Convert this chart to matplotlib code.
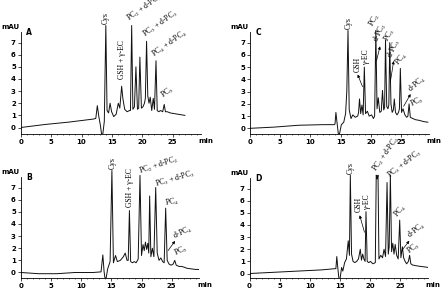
import matplotlib
matplotlib.use("Agg")
import matplotlib.pyplot as plt
import matplotlib.transforms as mtransforms

plt.rcParams["mathtext.fontset"] = "stix"

# chromatogram traces (time in min, absorbance in mAU)
t_A = [0, 4, 8, 12, 12.35, 12.6, 12.85, 13.1, 13.3, 13.5, 13.75, 14.0, 14.2, 14.45, 14.7,
       14.95, 15.3, 15.7, 16.05, 16.3, 16.6, 16.8, 17.1, 17.5, 17.9, 18.05, 18.25, 18.45, 18.7,
       18.95, 19.2, 19.4, 19.6, 19.85, 20.1, 20.35, 20.5, 20.7, 20.9, 21.1, 21.3, 21.55, 21.8,
       22.0, 22.25, 22.45, 22.7, 23.0, 23.35, 23.6, 23.8, 24.1, 24.6, 25.2, 25.8, 26.4, 27.0]
y_A = [0.0, 0.25, 0.45, 0.7, 0.75, 1.8, 0.9, 0.2, -0.55, -0.55, 0.5, 8.4, 1.4, 1.2, 2.0,
       1.3, 0.9, 1.1, 2.0, 1.6, 3.4, 2.4, 1.5, 1.3, 1.4, 1.4, 8.4, 1.5, 1.7,
       5.0, 1.5, 1.6, 5.8, 1.6, 1.7, 2.0, 2.4, 7.1, 2.6, 2.0, 2.5, 1.4, 2.4,
       1.5, 5.5, 1.4, 1.3, 1.4, 1.3, 1.9, 1.3, 1.3, 1.2, 1.15, 1.1, 1.05, 1.0]

t_B = [0, 3, 6, 9, 12, 13.3, 13.6, 13.8, 13.95, 14.15, 14.4, 14.8, 15.1, 15.35, 15.7, 16.0,
       16.5, 17.0, 17.3, 17.6, 17.8, 18.0, 18.2, 18.5, 18.8, 19.1, 19.45, 19.75, 20.0, 20.25,
       20.45, 20.65, 20.85, 21.05, 21.2, 21.35, 21.55, 21.8, 22.05, 22.35, 22.6, 22.9, 23.2,
       23.5, 23.75, 24.0, 24.25, 24.55, 24.9, 25.25, 25.5, 25.75, 26.2, 26.6, 27.0, 27.5,
       28.2, 29.0, 29.9]
y_B = [0.0, -0.1, -0.1, 0.0, 0.0, 0.05, 1.45, 0.1, -0.45, -0.45, 0.3, 0.9, 8.4, 0.8, 1.4, 0.9,
       1.0, 1.3, 1.6, 1.0, 1.0, 5.1, 0.9, 0.8, 0.9, 0.8, 1.1, 8.0, 1.4, 2.3,
       1.8, 2.5, 1.9, 2.4, 1.6, 6.3, 1.3, 2.0, 1.3, 7.0, 1.6, 1.0, 1.2,
       0.9, 0.8, 5.3, 1.0, 0.7, 0.6, 0.7, 1.0, 0.6, 0.5, 0.5, 0.45, 0.35,
       0.3, 0.25, 0.25]

t_C = [0, 4, 8, 12, 13.9, 14.05, 14.2, 14.4, 14.6, 14.8, 15.1, 15.5, 15.8, 16.0, 16.2, 16.4,
       16.7, 17.0, 17.4, 17.8, 17.95, 18.1, 18.3, 18.5, 18.7, 18.9, 19.1, 19.4, 19.7, 20.1,
       20.4, 20.6, 20.8, 21.0, 21.2, 21.45, 21.7, 21.9, 22.1, 22.25, 22.4, 22.6, 22.8, 22.95,
       23.1, 23.3, 23.5, 23.7, 23.85, 24.05, 24.3, 24.55, 24.7, 24.85, 25.05, 25.3, 25.6,
       25.9, 26.1, 26.3, 26.5, 26.9, 27.4, 28.0, 28.7, 29.4]
y_C = [0.0, 0.1, 0.25, 0.3, 0.3, 0.35, 1.3, 0.4, -0.45, -0.45, 0.3, 0.5, 1.2, 3.0, 8.0, 1.5,
       0.8, 1.1, 0.9, 1.0, 1.3, 2.4, 1.2, 1.9, 1.1, 5.0, 1.2, 1.4, 1.0, 1.1,
       0.8, 1.0, 8.0, 1.6, 2.5, 1.3, 1.4, 3.1, 1.5, 1.7, 7.2, 1.8, 1.6, 1.9,
       7.0, 2.0, 1.3, 1.5, 2.4, 1.3, 1.1, 1.3, 1.6, 4.9, 1.3, 1.6, 1.1,
       0.9, 1.0, 2.0, 0.9, 0.8, 0.7, 0.65, 0.55, 0.5]

t_D = [0, 4, 8, 12, 14.2, 14.35, 14.5, 14.7, 14.85, 15.05, 15.3, 15.5, 15.8, 16.1, 16.4, 16.6,
       16.75, 16.95, 17.2, 17.5, 17.8, 18.1, 18.4, 18.6, 18.8, 19.0, 19.2, 19.35, 19.55, 19.8,
       20.1, 20.5, 20.9, 21.05, 21.2, 21.35, 21.5, 21.8, 22.1, 22.35, 22.6, 22.85, 23.05,
       23.2, 23.4, 23.6, 23.8, 24.0, 24.2, 24.45, 24.7, 24.95, 25.15, 25.4, 25.6, 25.85,
       26.1, 26.4, 26.6, 26.8, 27.1, 27.6, 28.2, 29.0, 29.7]
y_D = [0.0, 0.1, 0.2, 0.3, 0.4, 0.4, 1.4, 0.3, -0.4, -0.4, 0.5, 0.2, 0.9, 1.2, 2.7, 1.5,
       8.1, 1.6, 1.0, 0.9, 1.0, 1.2, 2.0, 1.1, 1.6, 1.2, 1.0, 5.1, 1.0, 0.9,
       1.0, 0.8, 0.9, 8.1, 7.8, 8.1, 1.2, 1.5, 1.3, 2.0, 1.4, 7.5, 1.6,
       2.2, 8.1, 1.8, 2.5, 1.6, 2.4, 1.5, 1.2, 4.4, 1.3, 2.2, 1.3, 1.0,
       0.8, 1.0, 1.5, 0.8, 0.7, 0.65, 0.6, 0.55, 0.5]

y_ticks = [0, 1, 2, 3, 4, 5, 6, 7]
x_ticks = [0, 5, 10, 15, 20, 25]

# peak labels: text, x, y, rotation
labels_A = [("Cys", 14.0, 8.5, 90), ("GSH + γ-EC", 16.65, 4.0, 90),
            ("PC$_2$ + d-PC$_2$", 18.2, 8.5, 35), ("PC$_3$ + d-PC$_3$", 20.7, 7.2, 35),
            ("PC$_4$ + d-PC$_4$", 22.3, 5.6, 35), ("PC$_5$", 23.7, 2.2, 35)]
labels_B = [("Cys", 15.2, 8.5, 90), ("GSH + γ-EC", 18.15, 5.4, 90),
            ("PC$_2$ + d-PC$_2$", 19.85, 7.9, 18), ("PC$_3$ + d-PC$_3$", 22.5, 6.8, 16),
            ("PC$_4$", 24.1, 5.2, 10), ("d-PC$_4$", 25.7, 2.5, 25), ("PC$_5$", 25.8, 1.1, 25)]
labels_C = [("Cys", 16.3, 8.1, 90), ("GSH", 17.75, 4.6, 90), ("γ-EC", 19.2, 5.2, 90),
            ("PC$_2$", 20.85, 8.1, 60), ("d-PC$_2$", 21.6, 6.9, 65), ("PC$_3$", 23.3, 6.9, 60),
            ("d-PC$_3$", 23.9, 5.6, 65), ("PC$_4$", 24.95, 4.9, 50),
            ("d-PC$_4$", 26.9, 2.7, 40), ("PC$_5$", 26.9, 1.5, 25)]
labels_D = [("Cys", 16.85, 8.2, 90), ("GSH", 18.2, 5.1, 90), ("γ-EC", 19.6, 5.2, 90),
            ("PC$_2$ + d-PC$_2$", 21.45, 8.2, 55), ("PC$_3$ + d-PC$_3$", 23.7, 7.6, 38),
            ("PC$_4$", 25.05, 4.4, 50), ("d-PC$_4$", 27.0, 2.7, 38), ("PC$_5$", 26.8, 1.4, 35)]

# arrows: head (x, y), tail (x, y)
arrows_B = [((25.55, 2.6), (24.4, 1.8))]
arrows_C = [((17.8, 4.4), (18.6, 3.4)), ((21.5, 6.7), (20.9, 5.5)),
            ((23.75, 5.5), (23.2, 3.8)), ((26.55, 2.8), (25.4, 1.8))]
arrows_D = [((18.3, 4.8), (19.1, 3.4)), ((26.55, 2.7), (25.3, 1.9))]


def panel(ax, t, y, letter, ybot, labels, arrows):
    ax.plot(t, y, color="#111111", lw=0.7)
    ax.set_xlim(0, 29.6)
    ax.set_ylim(ybot, 8.6)
    for s in ["top", "right"]:
        ax.spines[s].set_visible(False)
    ax.spines["left"].set_bounds(ybot, 7.9)
    ax.spines["left"].set_linewidth(0.6)
    ax.spines["bottom"].set_linewidth(0.6)
    ax.set_xticks(x_ticks)
    ax.set_xticks(range(0, 30), minor=True)
    ax.set_yticks(y_ticks)
    ax.tick_params(length=2, width=0.5, pad=1.5, labelsize=5)
    ax.tick_params(which="minor", length=1, width=0.4)
    for lab in ax.get_xticklabels() + ax.get_yticklabels():
        lab.set_fontweight("bold")
    ax.text(-0.2, 8.25, "mAU", ha="right", va="center", fontsize=5, fontweight="bold")
    ax.text(0.9, 7.8, letter, ha="left", va="center", fontsize=5.5, fontweight="bold")
    trans = mtransforms.blended_transform_factory(ax.transData, ax.transAxes)
    ax.text(30.4, -0.035, "min", transform=trans, ha="center", va="top",
            fontsize=5, fontweight="bold")
    for txt, lx, ly, rot in labels:
        ax.text(lx, ly, txt, rotation=rot, rotation_mode="anchor", ha="left",
                va="center" if rot == 90 else "bottom", fontsize=5.5,
                family="Liberation Serif", color="black")
    for head, tail in arrows:
        ax.annotate("", xy=head, xytext=tail,
                    arrowprops=dict(arrowstyle="-|>", lw=0.5, color="black",
                                    mutation_scale=4, shrinkA=0, shrinkB=0))


fig = plt.figure(figsize=(4.45, 2.99), dpi=100)
axA = fig.add_axes([0.0465, 0.5528, 0.4045, 0.370])
axC = fig.add_axes([0.5618, 0.5528, 0.4024, 0.370])
axB = fig.add_axes([0.0465, 0.0712, 0.4018, 0.3666])
axD = fig.add_axes([0.5607, 0.0702, 0.4004, 0.364])

panel(axA, t_A, y_A, "A", -0.51, labels_A, [])
panel(axB, t_B, y_B, "B", -0.43, labels_B, arrows_B)
panel(axC, t_C, y_C, "C", -0.44, labels_C, arrows_C)
panel(axD, t_D, y_D, "D", -0.37, labels_D, arrows_D)

fig.savefig("out.png", dpi=100)
